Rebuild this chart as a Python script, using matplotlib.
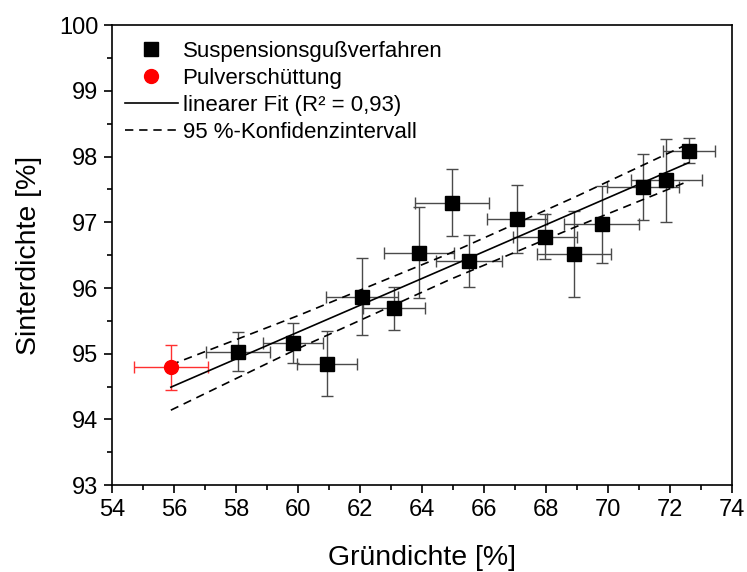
import numpy as np
import matplotlib
matplotlib.use('Agg')
import matplotlib.pyplot as plt
from matplotlib.ticker import MultipleLocator

plt.rcParams['font.family'] = ['Liberation Sans', 'DejaVu Sans']

# Suspensionsgussverfahren
gd = [58.06, 59.82, 60.92, 62.05, 63.09, 63.89, 64.97, 65.52, 67.06, 67.96, 68.90, 69.79, 71.13, 71.88, 72.61]
sd = [95.03, 95.16, 94.85, 95.87, 95.69, 96.54, 97.30, 96.41, 97.05, 96.78, 96.52, 96.97, 97.54, 97.64, 98.09]
gd_err = [1.02, 0.97, 0.97, 1.16, 1.00, 1.13, 1.19, 1.06, 0.97, 1.03, 1.19, 1.21, 1.16, 1.15, 0.84]
sd_err = [0.30, 0.30, 0.50, 0.59, 0.33, 0.69, 0.51, 0.40, 0.52, 0.34, 0.65, 0.59, 0.50, 0.63, 0.19]

# Pulverschuettung
pv_gd = [55.89]
pv_sd = [94.79]
pv_gd_err = [1.19]
pv_sd_err = [0.345]

# linearer Fit + 95 % Konfidenzband
fit_x = [55.89, 60.0, 64.9, 69.0, 72.61]
fit_y = [94.49, 95.33, 96.33, 97.17, 97.91]
conf_hi = [94.83, 95.58, 96.53, 97.40, 98.20]
conf_lo = [94.14, 95.08, 96.13, 96.94, 97.63]


fig = plt.figure(figsize=(7.47, 5.72), dpi=100)
ax = fig.add_axes([0.1503, 0.152, 0.8297, 0.8038])

ax.errorbar(gd, sd, xerr=gd_err, yerr=sd_err, fmt='none', ecolor='#4a4a4a',
            elinewidth=1, capsize=4.5, capthick=1, zorder=2)
ax.errorbar(pv_gd, pv_sd, xerr=pv_gd_err, yerr=pv_sd_err, fmt='none', ecolor='#ff3030',
            elinewidth=1, capsize=4.5, capthick=1, zorder=2)

ax.plot(fit_x, fit_y, color='black', lw=1.2, zorder=3, label='linearer Fit (R² = 0,93)')
ax.plot(fit_x, conf_hi, color='black', lw=1.2, ls=(0, (5, 3.5)), zorder=3,
        label='95 %-Konfidenzintervall')
ax.plot(fit_x, conf_lo, color='black', lw=1.2, ls=(0, (5, 3.5)), zorder=3)

ax.plot(gd, sd, 's', color='black', ms=9.5, zorder=4, label='Suspensionsgußverfahren')
ax.plot(pv_gd, pv_sd, 'o', color='#ff0000', ms=10, zorder=4, label='Pulverschüttung')

ax.set_xlim(54, 74)
ax.set_ylim(93, 100)
ax.xaxis.set_major_locator(MultipleLocator(2))
ax.xaxis.set_minor_locator(MultipleLocator(1))
ax.yaxis.set_major_locator(MultipleLocator(1))
ax.yaxis.set_minor_locator(MultipleLocator(0.5))
ax.tick_params(which='major', direction='out', length=6, width=1.2, labelsize=17, pad=4)
ax.tick_params(which='minor', direction='out', length=3.6, width=1.2)
for s in ax.spines.values():
    s.set_linewidth(1.2)

ax.set_xlabel('Gründichte [%]', fontsize=20.5, labelpad=17)
ax.set_ylabel('Sinterdichte [%]', fontsize=20.5, labelpad=12)

h, l = ax.get_legend_handles_labels()
order = [2, 3, 0, 1]
ax.legend([h[i] for i in order], [l[i] for i in order], loc='upper left',
          frameon=False, fontsize=16, handlelength=2.4, handletextpad=0.2,
          labelspacing=0.27, bbox_to_anchor=(-0.005, 1.0), borderaxespad=0.4,
          borderpad=0.3)

fig.savefig('out.png', dpi=100)
